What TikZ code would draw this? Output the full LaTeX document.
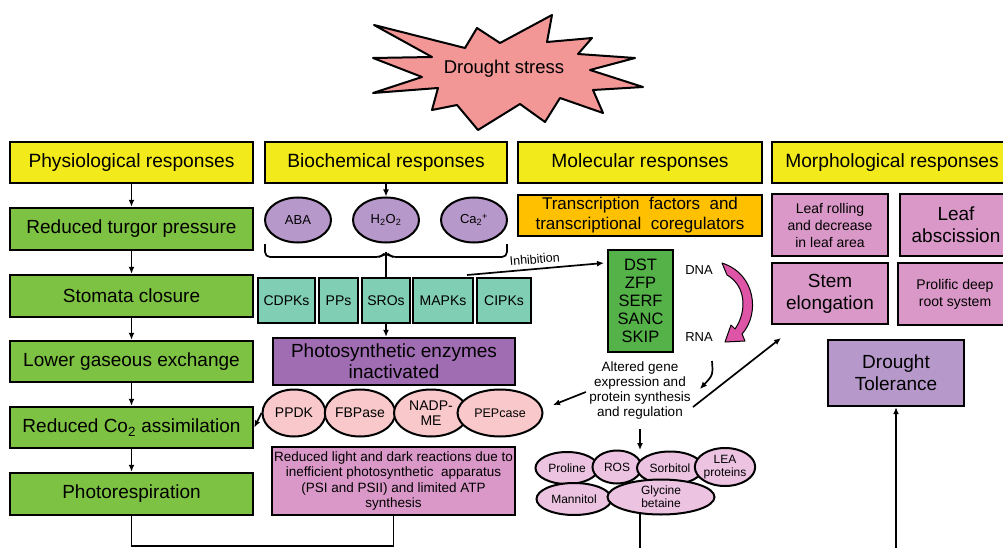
\documentclass[tikz,border=0pt]{standalone}
\usepackage{fontspec}
\setmainfont{Liberation Sans}
\usetikzlibrary{shapes.geometric,arrows.meta}
\definecolor{hdr}{RGB}{243,234,28}
\definecolor{grn}{RGB}{125,194,66}
\definecolor{dgrn}{RGB}{84,178,72}
\definecolor{teal}{RGB}{128,206,180}
\definecolor{lav}{RGB}{182,152,202}
\definecolor{purp}{RGB}{160,108,178}
\definecolor{salm}{RGB}{248,200,202}
\definecolor{mauve}{RGB}{218,152,200}
\definecolor{orng}{RGB}{255,192,0}
\definecolor{lpink}{RGB}{236,196,226}
\definecolor{starfill}{RGB}{242,150,150}
\definecolor{magen}{RGB}{222,84,166}
\newcommand\fsz[2]{\fontsize{#1}{#2}\selectfont}
\begin{document}
\begin{tikzpicture}[x=1pt,y=-1pt,
  box/.style={draw=black, line width=2.4pt, inner sep=1pt, align=center, text=black},
  ell/.style={ellipse, draw=black, line width=2pt, inner sep=0pt, align=center},
  arr/.style={-{Latex[length=7pt,width=6pt]}, line width=1.7pt},
  ln/.style={line width=1.7pt},
  hdrbox/.style={box, fill=hdr, minimum width=243, minimum height=41, font=\fsz{19.2}{22}},
  grnbox/.style={box, fill=grn, minimum width=243, minimum height=42, font=\fsz{19}{22}},
  kin/.style={box, fill=teal, minimum height=45, font=\fsz{14}{16}},
  bio/.style={ell, fill=lav, minimum width=66, minimum height=45, font=\fsz{13}{15}},
  enz/.style={ell, fill=salm, minimum height=47, font=\fsz{14}{15}},
  met/.style={ell, fill=lpink, font=\fsz{12}{13}},
  morph/.style={box, fill=mauve}]
\useasboundingbox (0,0) rectangle (1003,548);
\clip (0,0) rectangle (1003,548);

% starburst
\filldraw[fill=starfill, draw=black, line width=2pt, line join=round]
 (465,48) -- (477,28) -- (500,43) -- (552,15) -- (547,42) -- (592,38)
 -- (578,54) -- (635,58) -- (590,70) -- (643,87) -- (593,90) -- (603,113) -- (560,98)
 -- (545,122) -- (520,104) -- (478,130) -- (457,105) -- (432,110) -- (438,88)
 -- (373,93) -- (422,77) -- (373,58) -- (432,57) -- (374,25) -- cycle;
\node[font=\fsz{18.5}{21}] (ds) at (504,69) {Drought stress};

% headers
\node[hdrbox] (phys) at (131.5,162.5) {Physiological responses};
\node[hdrbox, minimum width=242] (bioh) at (386,162.5) {Biochemical responses};
\node[hdrbox, minimum width=244] (molh) at (640,162.5) {Molecular responses};
\node[hdrbox, minimum width=240] (morh) at (892,162.5) {Morphological responses};

% physiological column
\node[grnbox] (g1) at (131.5,229) {Reduced turgor pressure};
\node[grnbox] (g2) at (131.5,296) {Stomata closure};
\node[grnbox, minimum height=41] (g3) at (131.5,361.5) {Lower gaseous exchange};
\node[grnbox, minimum height=41] (g4) at (131.5,427.5) {Reduced Co\textsubscript{2} assimilation};
\node[grnbox] (g5) at (131.5,494) {Photorespiration};
\draw[arr] (phys.south) -- (g1.north);
\draw[arr] (g1.south) -- (g2.north);
\draw[arr] (g2.south) -- (g3.north);
\draw[arr] (g3.south) -- (g4.north);
\draw[arr] (g4.south) -- (g5.north);

% biochemical column
\node[bio] (aba) at (298,220) {ABA};
\node[bio] (hoo) at (386,220) {H\textsubscript{2}O\textsubscript{2}};
\node[bio] (ca) at (474,220) {Ca\textsubscript{2}\textsuperscript{+}};
\draw[arr] (bioh.south) -- (hoo.north);
\draw[ln, rounded corners=5] (265,244) -- (265,257) -- (381,257) -- (386,252) -- (391,257) -- (507,257) -- (507,244);
\coordinate (brc) at (386,252);

\node[kin, minimum width=57] (cdpk) at (286.5,300.5) {CDPKs};
\node[kin, minimum width=39] (pps) at (338.5,300.5) {PPs};
\node[kin, minimum width=48] (sros) at (386,300.5) {SROs};
\node[kin, minimum width=60] (mapk) at (443,300.5) {MAPKs};
\node[kin, minimum width=54] (cipk) at (504,300.5) {CIPKs};
\draw[ln] (sros.north) -- (sros.north |- brc);

\node[box, fill=purp, minimum width=242, minimum height=47, font=\fsz{19}{21}] (ps) at (394,361.5) {Photosynthetic enzymes\\inactivated};
\draw[arr] (sros.south) -- (sros.south |- ps.north);

\node[enz, minimum width=63] (ppdk) at (294,413) {PPDK};
\node[enz, minimum width=70] (fbp) at (360,413) {FBPase};
\node[enz, minimum width=74] (nadp) at (431,413) {NADP-\\ME};
\node[enz, minimum width=85, font=\fsz{12.5}{14}] (pep) at (500,413) {PEPcase};
\draw[arr] (ppdk.west) -- (g4.east);

\node[box, fill=mauve, minimum width=243, minimum height=68, font=\fsz{13.5}{15.5}] (rl) at (393.5,481)
 {Reduced light and dark reactions due to\\inefficient photosynthetic\ \ apparatus\\(PSI and PSII) and limited ATP\\synthesis};

% inhibition
\coordinate (inh0) at (467,275);
\coordinate (inh1) at (604,263);
\draw[arr] (inh0) -- (inh1) node[midway, above=1pt, sloped, font=\fsz{12.5}{14}] (inhl) {Inhibition};

% molecular column
\node[box, fill=orng, minimum width=244, minimum height=41, font=\fsz{17}{20}] (tf) at (640,215.5) {Transcription\ \ factors\ \ and\\transcriptional\ \ coregulators};
\node[box, fill=dgrn, minimum width=65, minimum height=102, font=\fsz{16.5}{18}] (dst) at (640.5,301) {DST\\ZFP\\SERF\\SANC\\SKIP};
\node[font=\fsz{13}{15}] (dna) at (699,270) {DNA};
\node[font=\fsz{13}{15}] (rna) at (699,337) {RNA};
\fill[magen, draw=black, line width=1pt, line join=round]
 (722,263) .. controls (756,274) and (760,314) .. (742,334)
 -- (745,341) -- (725,342) -- (731,325) -- (735,329)
 .. controls (748,310) and (745,285) .. (727,275) -- cycle;
\node[font=\fsz{13.5}{15}, align=center] (alt) at (640,391) {Altered gene\\expression and\\protein synthesis\\and regulation};
\coordinate (c1) at (712,361);
\coordinate (c2) at (700,389);
\draw[arr] (c1) .. controls (713,375) .. (c2);
\coordinate (p1) at (553,405);
\draw[arr] (alt.west |- 0,392) -- (p1);
\coordinate (s0) at (693,407);
\coordinate (s1) at (781,338);
\draw[arr] (s0) -- (s1);
\coordinate (m0) at (640,429);
\coordinate (m1) at (640,450);
\draw[arr] (m0) -- (m1);

% metabolites
\node[met, minimum width=63, minimum height=32] (pro) at (567,468) {Proline};
\node[met, minimum width=49, minimum height=33] (ros) at (617,467) {ROS};
\node[met, minimum width=66, minimum height=33] (sor) at (670,468) {Sorbitol};
\node[met, minimum width=60, minimum height=38, font=\fsz{12}{13}] (lea) at (725,467) {LEA\\proteins};
\node[met, minimum width=75, minimum height=32] (man) at (574,499) {Mannitol};
\node[met, minimum width=107, minimum height=35] (gly) at (661,497) {Glycine\\betaine};
\coordinate (mb) at (640,548);
\coordinate (mt) at (640,514);
\draw[ln] (mb) -- (mt);

% morphological column
\node[morph, minimum width=116, minimum height=62, font=\fsz{14}{17}] (lr) at (830,225) {Leaf rolling\\and decrease\\in leaf area};
\node[morph, minimum width=112, minimum height=62, font=\fsz{19}{22}] (la) at (956,225) {Leaf\\abscission};
\node[morph, minimum width=116, minimum height=61, font=\fsz{19}{22}] (st) at (830,293.5) {Stem\\elongation};
\node[morph, minimum width=114, minimum height=62, font=\fsz{14}{17}] (pr) at (955,294) {Prolific deep\\root system};
\node[box, fill=lav, minimum width=136, minimum height=66, font=\fsz{19}{22}] (dt) at (896,373) {Drought\\Tolerance};
\coordinate (dtb) at (896,548);
\draw[arr] (dtb) -- (dt.south);

% bottom connectors
\coordinate (b1) at (0,546);
\draw[ln] (g5.south) |- (rl.south |- b1) -- (rl.south);
\end{tikzpicture}
\end{document}
